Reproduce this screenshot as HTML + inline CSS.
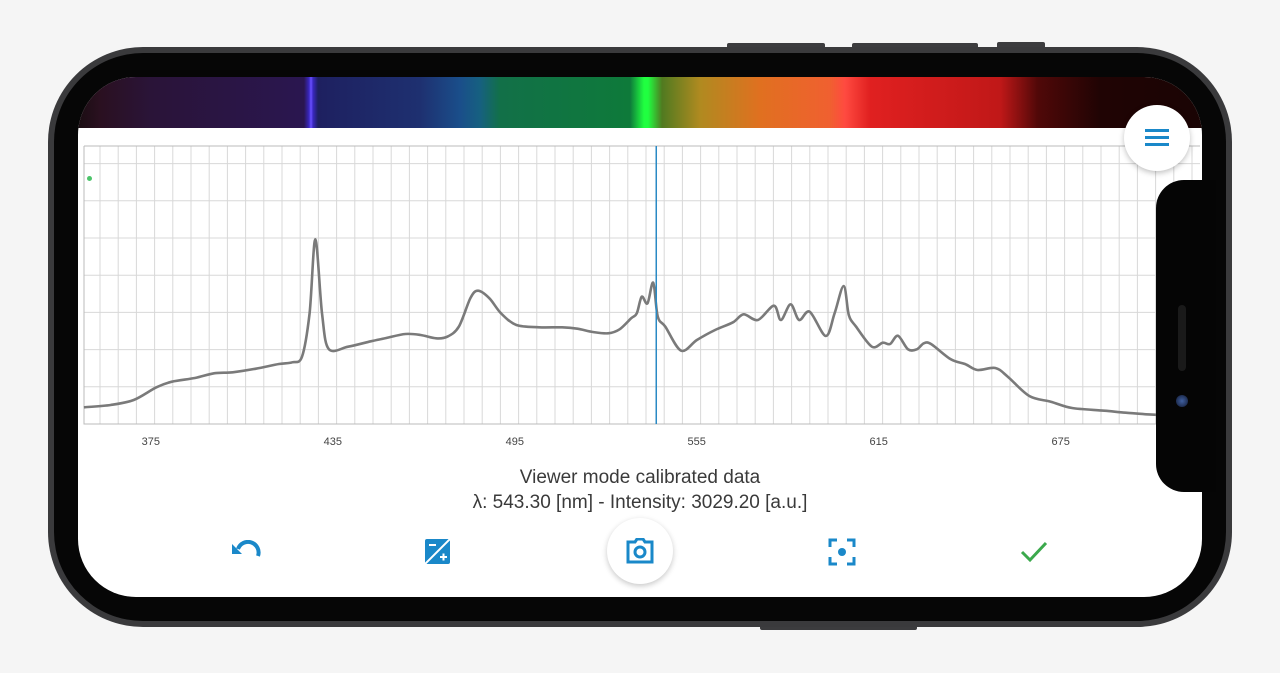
<!DOCTYPE html>
<html><head><meta charset="utf-8"><style>
html,body{margin:0;padding:0;width:1280px;height:673px;background:#f5f5f5;overflow:hidden;font-family:"Liberation Sans",sans-serif}
.abs{position:absolute}
</style></head><body>
<div class="abs" style="left:727px;top:43px;width:98px;height:8px;background:#3c3c3e;border-radius:2px"></div>
<div class="abs" style="left:852px;top:43px;width:126px;height:8px;background:#3c3c3e;border-radius:2px"></div>
<div class="abs" style="left:997px;top:42px;width:48px;height:9px;background:#3c3c3e;border-radius:2px"></div>
<div class="abs" style="left:760px;top:622px;width:157px;height:8px;background:#3c3c3e;border-radius:2px"></div>
<div class="abs" style="left:48px;top:47px;width:1184px;height:580px;background:#3a3a3c;border-radius:95px"></div>
<div class="abs" style="left:54px;top:53px;width:1172px;height:568px;background:#060606;border-radius:89px"></div>
<div class="abs" style="left:78px;top:77px;width:1124px;height:520px;background:#fff;border-radius:58px;overflow:hidden">
  <div class="abs" style="left:0;top:0;width:1124px;height:51px;background:linear-gradient(90deg,#1a0d12 0px,#2a1020 22px,#2a1438 72px,#2a1650 226px,#3a28c0 231px,#6a50ff 233px,#3a28c0 235px,#1e2060 240px,#1e3070 342px,#1a4e8a 382px,#166080 402px,#127048 422px,#0e7a3a 552px,#20ff40 566px,#20ff40 570px,#507a20 584px,#b08a20 622px,#e07020 682px,#f06030 752px,#ff4a40 767px,#e02020 792px,#c01818 922px,#500808 960px,#200404 1022px,#1a0404 1124px)"></div>
</div>
<svg class="abs" style="left:0;top:0" width="1280" height="673" id="chart"></svg>
<div class="abs" style="left:1156px;top:180px;width:60px;height:312px;background:#050505;border-radius:28px 0 0 28px"></div>
<div class="abs" style="left:1178px;top:305px;width:8px;height:66px;background:#1a1a1a;border-radius:4px"></div>
<div class="abs" style="left:1176px;top:395px;width:12px;height:12px;background:radial-gradient(circle,#4060a0,#101830);border-radius:50%"></div>
<div class="abs" style="left:1124px;top:105px;width:66px;height:66px;background:#fff;border-radius:50%;box-shadow:0 2px 6px rgba(0,0,0,.25)">
  <div class="abs" style="left:21px;top:24px;width:24px;height:3px;background:#1a88c9"></div>
  <div class="abs" style="left:21px;top:31px;width:24px;height:3px;background:#1a88c9"></div>
  <div class="abs" style="left:21px;top:38px;width:24px;height:3px;background:#1a88c9"></div>
</div>
<div class="abs" style="left:340px;top:467px;width:600px;text-align:center;font-size:19px;color:#3a3a3a">Viewer mode calibrated data</div>
<div class="abs" style="left:340px;top:492px;width:600px;text-align:center;font-size:19px;color:#3a3a3a">λ: 543.30 [nm] - Intensity: 3029.20 [a.u.]</div>
<svg class="abs" style="left:230px;top:540px" width="32" height="24"><path d="M8 9 A10 10 0 0 1 28 16" fill="none" stroke="#1a88c9" stroke-width="4"/><path d="M2 4 L2 14 L12 14 Z" fill="#1a88c9"/></svg>
<svg class="abs" style="left:425px;top:539px" width="25" height="25"><rect x="0" y="0" width="25" height="25" rx="2" fill="#1a88c9"/><path d="M25 0 L0 25" stroke="#fff" stroke-width="2"/><rect x="4" y="5" width="7" height="2" fill="#fff"/><rect x="15" y="17" width="7" height="2" fill="#fff"/><rect x="17.5" y="14.5" width="2" height="7" fill="#fff"/></svg>
<div class="abs" style="left:607px;top:518px;width:66px;height:66px;background:#fff;border-radius:50%;box-shadow:0 2px 6px rgba(0,0,0,.22)">
<svg class="abs" style="left:19px;top:20px" width="28" height="26"><path d="M9 4 L11 1 L17 1 L19 4 L26 4 L26 24 L2 24 L2 4 Z" fill="none" stroke="#1a88c9" stroke-width="3"/><circle cx="14" cy="14" r="5" fill="none" stroke="#1a88c9" stroke-width="3"/></svg></div>
<svg class="abs" style="left:828px;top:538px" width="28" height="28"><path d="M2 9 V2 H9 M19 2 H26 V9 M26 19 V26 H19 M9 26 H2 V19" fill="none" stroke="#1a88c9" stroke-width="3"/><circle cx="14" cy="14" r="4" fill="#1a88c9"/></svg>
<svg class="abs" style="left:1020px;top:541px" width="28" height="22"><path d="M2 11 L10 19 L26 2" fill="none" stroke="#3ba94c" stroke-width="3"/></svg>
<script>
const wavelengths=[354.6,363.4,371.0,378.5,383.6,391.2,397.5,403.7,411.3,418.9,423.3,426.5,429.0,430.9,433.1,435.3,441.7,449.2,454.3,460.6,465.6,470.7,474.4,478.2,482.0,484.5,488.3,492.1,497.2,504.7,512.3,517.3,522.4,527.4,531.2,535.0,536.9,538.5,540.4,542.3,543.8,546.3,551.5,556.7,562.7,568.6,572.1,576.8,582.1,584.4,587.6,590.4,593.9,599.2,602.1,605.1,606.8,609.2,614.4,618.0,620.4,623.0,626.3,629.2,631.5,633.9,640.4,645.1,649.2,655.1,659.2,666.3,673.4,680.4,691.0,698.1,707.5,720.9];
const intensities=[473,538,680,1040,1198,1303,1436,1465,1567,1700,1748,1907,3136,5232,3136,2125,2190,2343,2436,2550,2521,2428,2473,2756,3561,3776,3561,3136,2805,2739,2739,2700,2606,2569,2683,2994,3136,3606,3419,4003,3040,2756,2076,2380,2663,2881,3108,2946,3351,2946,3391,2946,3181,2493,3136,3909,3088,2756,2190,2303,2266,2501,2116,2116,2286,2266,1833,1700,1530,1586,1340,793,632,453,377,320,263,227];
const tickLabels=[375,435,495,555,615,675];
const cursorWavelength=543.3;
const svg=document.getElementById('chart');
const NS='http://www.w3.org/2000/svg';
const L=84,R=1200,T=146,B=424;
const xOf=nm=>145.8+(nm-375)*3.033;
const yOf=v=>B-v*0.0353;
function mk(t,a){const e=document.createElementNS(NS,t);for(const k in a)e.setAttribute(k,a[k]);svg.appendChild(e);return e;}
for(let x=L+16;x<R;x+=18.2){const g=mk('line',{x1:x,x2:x,y1:T,y2:B,stroke:'#d8d8d8','stroke-width':1});

}
for(let k=1;k<=7;k++){const y=B-k*37.2;const g=mk('line',{x1:L,x2:R,y1:y,y2:y,stroke:'#d8d8d8','stroke-width':1});

}
const frame=mk('path',{d:`M${L} ${T} H${R} M${L} ${T} V${B} H${R}`,stroke:'#bbb',fill:'none','stroke-width':1});


tickLabels.forEach(t=>{const e=mk('text',{x:xOf(t)+5,y:445,'text-anchor':'middle','font-size':11,fill:'#444','font-family':'Liberation Sans,sans-serif'});e.textContent=t;

});
const pts=wavelengths.map((w,i)=>[xOf(w),yOf(intensities[i])]);
let d='M'+pts[0][0].toFixed(1)+' '+pts[0][1].toFixed(1);
for(let i=0;i<pts.length-1;i++){const p0=pts[Math.max(0,i-1)],p1=pts[i],p2=pts[i+1],p3=pts[Math.min(pts.length-1,i+2)];const k=0.16;
d+=` C${(p1[0]+(p2[0]-p0[0])*k).toFixed(1)} ${(p1[1]+(p2[1]-p0[1])*k).toFixed(1)} ${(p2[0]-(p3[0]-p1[0])*k).toFixed(1)} ${(p2[1]-(p3[1]-p1[1])*k).toFixed(1)} ${p2[0].toFixed(1)} ${p2[1].toFixed(1)}`;}
const line=mk('path',{d:d,fill:'none',stroke:'#7a7a7a','stroke-width':2.6,'stroke-linejoin':'round'});


const cx=xOf(cursorWavelength);
const cur=mk('line',{x1:cx,x2:cx,y1:T,y2:B,stroke:'#2a8ac4','stroke-width':1.5});


const dot=mk('circle',{cx:89.5,cy:178.5,r:2.5,fill:'#4cc46a'});


</script>
</body></html>
